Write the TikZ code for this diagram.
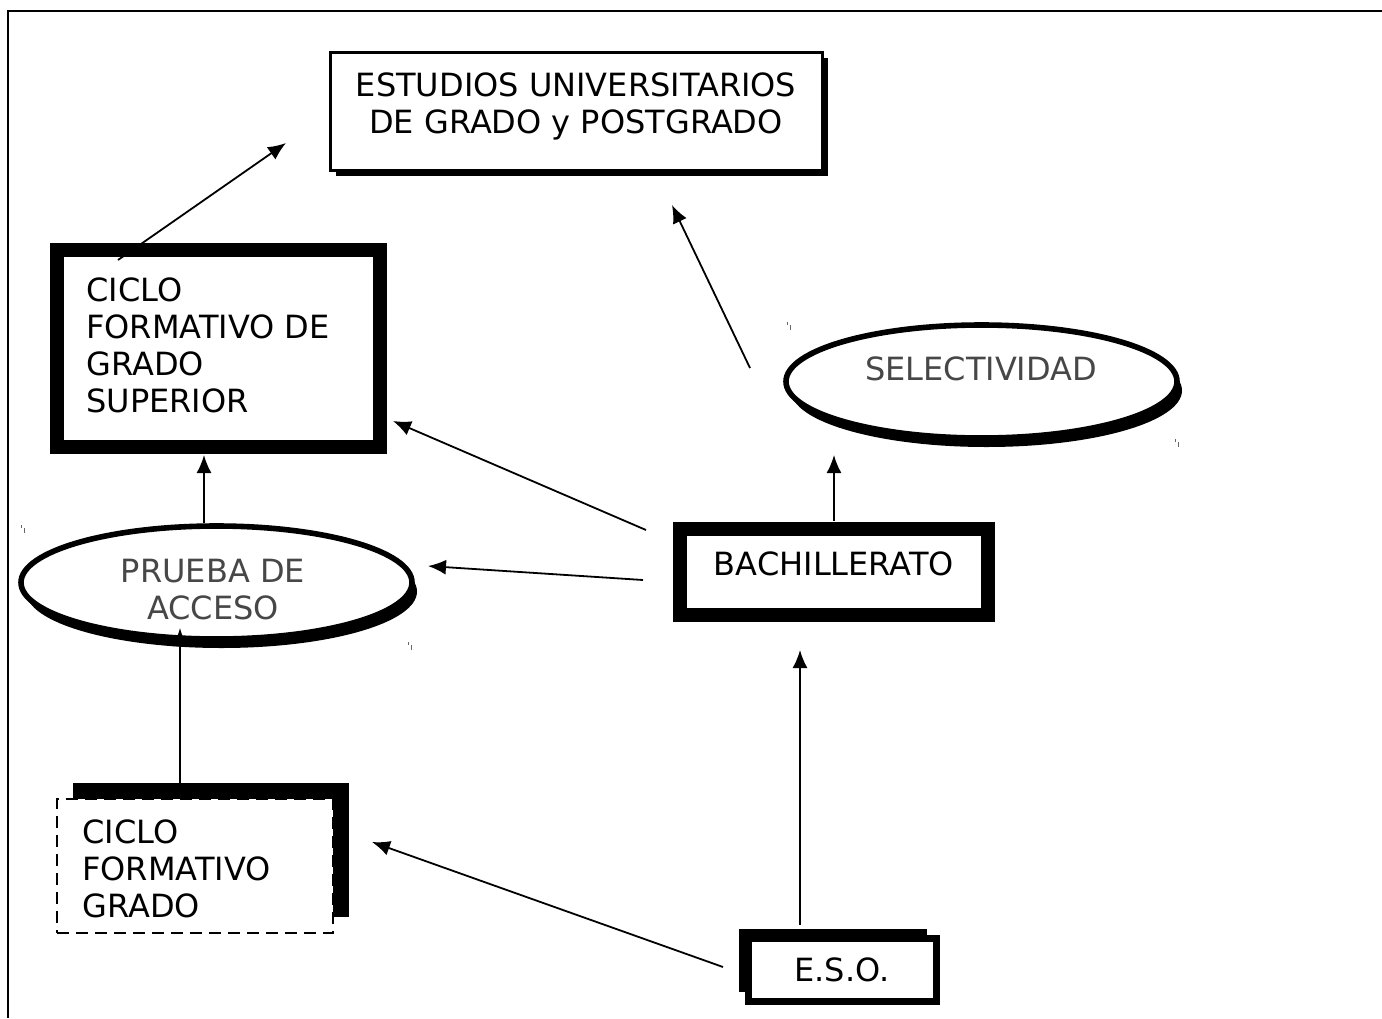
\documentclass[tikz,border=0pt]{standalone}
\usepackage{fontspec}
\setmainfont{DejaVu Sans}
\usetikzlibrary{arrows.meta,shapes.geometric,shadows}

\begin{document}
\begin{tikzpicture}[x=0.5pt,y=-0.5pt,font=\fontsize{16}{18.5}\selectfont]
\tikzstyle{txt}=[inner sep=0pt]
\tikzstyle{grey}=[txt, text=black!72]
\tikzstyle{heavy}=[rectangle, draw=black, line width=6.75pt, fill=white]
\tikzstyle{oval}=[ellipse, draw=black, line width=2.8pt, fill=white, minimum width=195.5pt, minimum height=56.5pt, drop shadow={shadow xshift=2.5pt, shadow yshift=-4.5pt, opacity=1, fill=black}]
\tikzstyle{arr}=[-{Latex[length=9pt,width=7.5pt]}, line width=0.9pt]
\useasboundingbox (0,0) rectangle (1382,1018);
% frame
\draw[line width=1.1pt] (1382,11) -- (8,11) -- (8,1018);

% boxes
\node[rectangle, draw=black, line width=1.5pt, fill=white, minimum width=246pt, minimum height=59pt,
      drop shadow={shadow xshift=3pt, shadow yshift=-3pt, opacity=1, fill=black}] (univ) at (576,111) {};
\node[heavy, minimum width=161.5pt, minimum height=98.5pt] (cfgs) at (218.5,348.5) {};
\node[heavy, minimum width=154pt, minimum height=43pt] (bach) at (834,572) {};
\node[rectangle, draw=black, dash pattern=on 6pt off 3.5pt, line width=0.75pt, fill=white,
      minimum width=138pt, minimum height=67pt,
      drop shadow={shadow xshift=8pt, shadow yshift=8pt, opacity=1, fill=black}] (cfgm) at (195,866) {};
\node[rectangle, draw=black, line width=3.5pt, fill=white, minimum width=94pt, minimum height=31.5pt,
      drop shadow={shadow xshift=-5pt, shadow yshift=5pt, opacity=1, fill=black}] (eso) at (842.5,970) {};
\node[oval] (sel) at (981.5,381.5) {};
\node[oval] (pru) at (216.5,582.5) {};

% texts
\node[txt, align=center] (univ-t) at (576,106) {ESTUDIOS UNIVERSITARIOS\\DE GRADO y POSTGRADO};
\node[txt, align=left, anchor=west] (cfgs-t) at (86,345) {CICLO\\FORMATIVO DE\\GRADO\\SUPERIOR};
\node[txt] (bach-t) at (834,563.5) {BACHILLERATO};
\node[txt, align=left, anchor=west] (cfgm-t) at (82,868.5) {CICLO\\FORMATIVO\\GRADO};
\node[txt] (eso-t) at (842,970) {E.S.O.};
\node[grey] (sel-t) at (981,368.5) {SELECTIVIDAD};
\node[grey, align=center] (pru-t) at (213,590) {PRUEBA DE\\ACCESO};

% little marks
\foreach \x/\y in {787/322,21/525,408/642,1175/439}
   {
    \draw[black!60, line width=0.4pt] (\x,\y) -- (\x,\y+3);
    \draw[black!60, line width=0.4pt] (\x+3,\y+3) -- (\x+3,\y+8);
   }

% arrows
\coordinate (t1) at (118,260);  \coordinate (h1) at (286,143);
\coordinate (t2) at (750,368);  \coordinate (h2) at (672,205);
\coordinate (t3) at (834,521);  \coordinate (h3) at (834,455);
\coordinate (t4) at (646,530);  \coordinate (h4) at (393,421);
\coordinate (t5) at (643,580);  \coordinate (h5) at (428,566);
\coordinate (t6) at (204,523);  \coordinate (h6) at (204,455);
\coordinate (t7) at (180,784);  \coordinate (h7) at (180,628);
\coordinate (t8) at (800,925);  \coordinate (h8) at (800,650);
\coordinate (t9) at (723,967);  \coordinate (h9) at (372,842);
\foreach \i in {1,...,9}
    \draw[arr] (t\i) -- (h\i);
\end{tikzpicture}
\end{document}
